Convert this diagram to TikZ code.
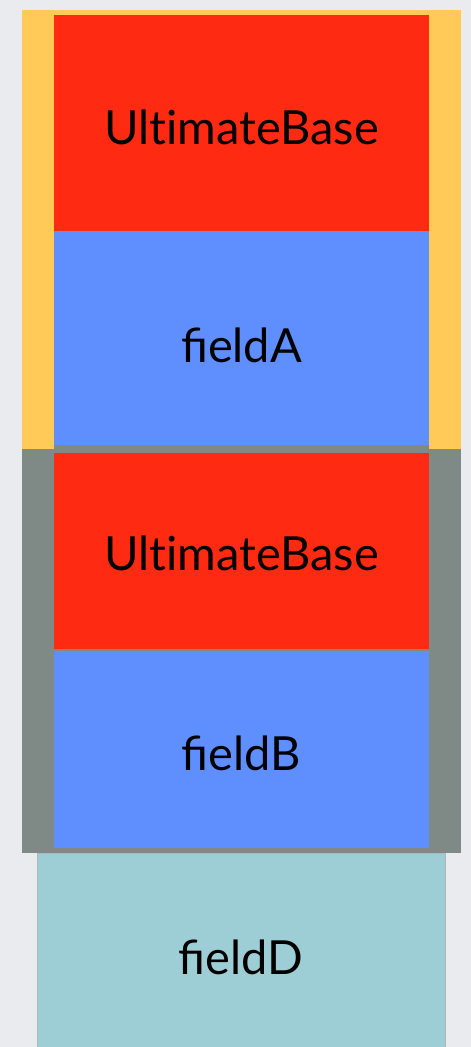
\documentclass[tikz,border=0pt]{standalone}
\usepackage{fontspec}
\setmainfont{Lato}
\definecolor{bg}{HTML}{E9EBEE}
\definecolor{ylw}{HTML}{FFCA57}
\definecolor{rd}{HTML}{FF2A12}
\definecolor{bl}{HTML}{5F8FFF}
\definecolor{gr}{HTML}{7F8986}
\definecolor{tl}{HTML}{9DCED6}
\definecolor{tlb}{HTML}{B2B6BA}
\begin{document}
\begin{tikzpicture}[x=1pt,y=-1pt,
  box/.style={anchor=north west,inner sep=0pt,outer sep=0pt,draw=none},
  lbl/.style={font=\fontsize{47}{54}\selectfont}]
\fill[bg] (0,0) rectangle (471,1047);
\useasboundingbox (0,0) rectangle (471,1047);
% frames
\node[box,fill=ylw,minimum width=439pt,minimum height=439pt] (frameA) at (22,10) {};
\node[box,fill=gr,minimum width=439pt,minimum height=404pt] (frameB) at (22,449) {};
\node[box,fill=gr,minimum width=375pt,minimum height=8pt] (sep) at (54,445) {};
% inner blocks
\node[box,fill=rd,minimum width=375pt,minimum height=216pt] (ub1) at (54,15) {};
\node[lbl] at ([yshift=-4pt]ub1.center) (ub1t) {Ult\kern0pt imateBase};
\node[box,fill=bl,minimum width=375pt,minimum height=214pt] (fa) at (54,231) {};
\node[lbl] at ([yshift=-7pt]fa.center) (fat) {fieldA};
\node[box,fill=rd,minimum width=375pt,minimum height=196pt] (ub2) at (54,453) {};
\node[lbl] at ([yshift=-2pt]ub2.center) (ub2t) {Ult\kern0pt imateBase};
\node[box,fill=bl,minimum width=375pt,minimum height=197pt] (fb) at (54,651) {};
\node[lbl] at ([yshift=-4pt]fb.center) (fbt) {fieldB};
\node[box,fill=tl,draw=tlb,line width=1pt,minimum width=408pt,minimum height=200pt] (fd) at (37,853) {};
\node[lbl] at ([yshift=-4pt]fd.center) (fdt) {fieldD};
\end{tikzpicture}
\end{document}
